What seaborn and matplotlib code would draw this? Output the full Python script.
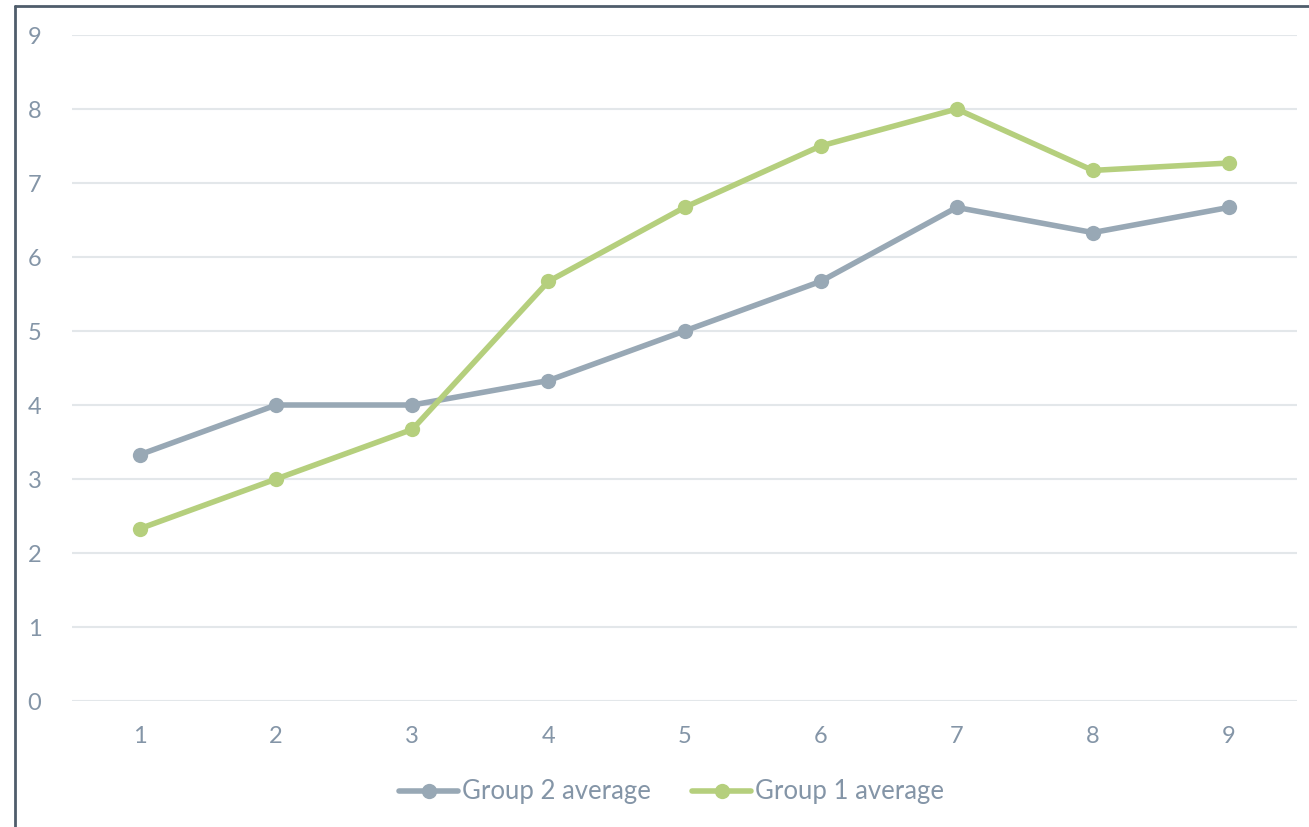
import matplotlib
matplotlib.use("Agg")
import matplotlib.pyplot as plt
import seaborn as sns
import pandas as pd
from matplotlib.lines import Line2D

# Scores per session for the two groups
sessions = [1, 2, 3, 4, 5, 6, 7, 8, 9]
group2_avg = [3.33, 4.0, 4.0, 4.33, 5.0, 5.67, 6.67, 6.33, 6.67]
group1_avg = [2.33, 3.0, 3.67, 5.67, 6.67, 7.5, 8.0, 7.17, 7.27]
series_names = ["Group 2 average", "Group 1 average"]
y_ticks = [0, 1, 2, 3, 4, 5, 6, 7, 8, 9]

df = pd.DataFrame({
    "session": sessions * 2,
    "score": group2_avg + group1_avg,
    "series": [series_names[0]] * len(sessions) + [series_names[1]] * len(sessions),
})

sns.set_theme(style="white")
plt.rcParams["font.family"] = ["Lato", "DejaVu Sans"]

text_color = "#8495a7"
palette = {series_names[0]: "#98a8b5", series_names[1]: "#b5cf7d"}

fig = plt.figure(figsize=(13.09, 8.27), dpi=100)
ax = fig.add_axes([72 / 1309, 1 - 701 / 827, (1297 - 72) / 1309, (701 - 35) / 827])

sns.lineplot(data=df, x="session", y="score", hue="series", palette=palette,
             marker="o", markersize=11, markeredgewidth=0, linewidth=4,
             ax=ax, legend=False)

ax.set_xlim(0.5, 9.5)
ax.set_ylim(0, 9)
ax.set_xticks(sessions)
ax.set_yticks(y_ticks)
ax.set_xlabel("")
ax.set_ylabel("")
ax.yaxis.grid(True, color="#e3e7ea", linewidth=1.5)
ax.set_axisbelow(True)
for s in ax.spines.values():
    s.set_visible(False)
ax.tick_params(axis="both", length=0, labelsize=17, colors=text_color)
ax.tick_params(axis="y", pad=22)
ax.tick_params(axis="x", pad=18)

handles = [Line2D([0], [0], color=palette[n], linewidth=4, marker="o",
                  markersize=11, markeredgewidth=0) for n in series_names]
fig.legend(handles, series_names, loc="center", bbox_to_anchor=(0.513, 1 - 792 / 827),
           ncol=2, frameon=False, fontsize=18.5, labelcolor=text_color,
           handlelength=2.3, handletextpad=0.15, columnspacing=1.6)

# Outer frame lines along the left and top edges
frame_color = "#4f5d6b"
fig.add_artist(Line2D([15.5 / 1309, 15.5 / 1309], [0, 1 - 5.5 / 827],
                      transform=fig.transFigure, color=frame_color, linewidth=2))
fig.add_artist(Line2D([15.5 / 1309, 1], [1 - 5.5 / 827, 1 - 5.5 / 827],
                      transform=fig.transFigure, color=frame_color, linewidth=2))

fig.savefig("out.png", dpi=100)
